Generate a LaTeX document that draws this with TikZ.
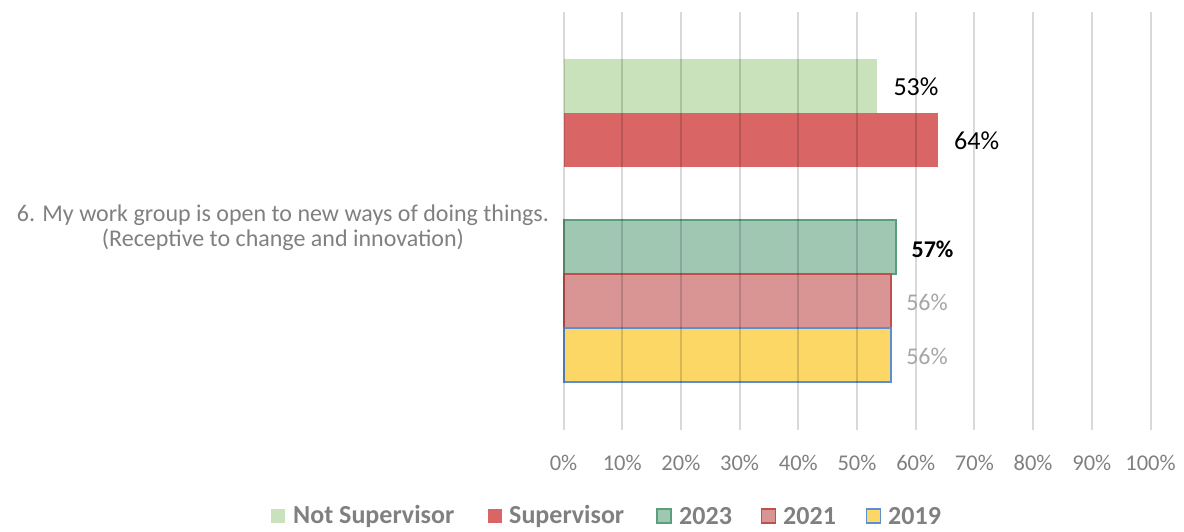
\documentclass[tikz,border=0pt]{standalone}
\usepackage{fontspec}
\setmainfont{Carlito}
\definecolor{cNS}{RGB}{201,226,188}
\definecolor{cS}{RGB}{217,101,101}
\definecolor{c23f}{RGB}{159,199,178}
\definecolor{c23d}{RGB}{90,158,124}
\definecolor{c21f}{RGB}{217,149,148}
\definecolor{c21d}{RGB}{192,80,77}
\definecolor{c19f}{RGB}{253,215,102}
\definecolor{c19d}{RGB}{91,143,208}
\definecolor{ctxt}{RGB}{128,128,128}
\definecolor{clight}{RGB}{166,166,166}
\tikzset{
  gridln/.style={draw=black, opacity=0.15, line width=2pt},
  axislbl/.style={font=\fontsize{22.5}{26}\selectfont, text=ctxt, inner sep=0pt},
  datalbl/.style={font=\fontsize{26}{30}\selectfont, text=black, inner sep=0pt},
  datalblb/.style={font=\fontsize{24}{28}\selectfont\bfseries, text=black, inner sep=0pt},
  datalblg/.style={font=\fontsize{24}{28}\selectfont, text=clight, inner sep=0pt},
  catlbl/.style={font=\fontsize{24}{29}\selectfont, text=ctxt, inner sep=0pt, anchor=base},
  legtxt/.style={font=\fontsize{26}{30}\selectfont\bfseries, text=ctxt, inner sep=0pt, anchor=west},
  legsq/.style={minimum width=14pt, minimum height=14pt, inner sep=0pt, line width=1.5pt},
  bar/.style={line width=1.6pt}
}
\begin{document}
\begin{tikzpicture}[x=1pt,y=-1pt]
\useasboundingbox (0,0) rectangle (1184,531);
% bars
\fill[cNS] (564,59) rectangle (876.7,112.7);
\fill[cS] (564,112.7) rectangle (937.7,166.7);
\draw[bar, draw=c23d, fill=c23f] (564,220) rectangle (896,274);
\draw[bar, draw=c21d, fill=c21f] (564,274) rectangle (890.7,327.7);
\draw[bar, draw=c19d, fill=c19f] (564,327.7) rectangle (890.7,381.7);
% gridlines and axis labels
\foreach \i in {0,...,10} {
  \coordinate (gt\i) at ({563.5+58.7*\i},12);
  \coordinate (gb\i) at ({563.5+58.7*\i},430);
  \draw[gridln] (gt\i) -- (gb\i);
  \pgfmathtruncatemacro{\pc}{10*\i}
  \node[axislbl] (ax\i) at ({563.5+58.7*\i},463) {\pc\%};
}
% data labels
\node[datalbl] (l53) at (916,87) {53\%};
\node[datalbl] (l64) at (976.7,141) {64\%};
\node[datalblb] (l57) at (932.5,249) {57\%};
\node[datalblg] (l56a) at (927,302) {56\%};
\node[datalblg] (l56b) at (927,356) {56\%};
% category label
\node[catlbl] (cat1) at (283,221) {6. My work group is open to new ways of doing things.};
\node[catlbl] (cat2) at (283,246) {(Receptive to change and innovation)};
% legend
\node[legsq, fill=cNS] (q1) at (278,516) {};
\node[legtxt] (t1) at (293,516) {Not Supervisor};
\node[legsq, fill=cS] (q2) at (495,516) {};
\node[legtxt] (t2) at (509,516) {Supervisor};
\node[legsq, draw=c23d, fill=c23f] (q3) at (664,516) {};
\node[legtxt] (t3) at (679,516) {2023};
\node[legsq, draw=c21d, fill=c21f] (q4) at (768.5,516) {};
\node[legtxt] (t4) at (783,516) {2021};
\node[legsq, draw=c19d, fill=c19f] (q5) at (873.5,516) {};
\node[legtxt] (t5) at (888,516) {2019};
\end{tikzpicture}
\end{document}
